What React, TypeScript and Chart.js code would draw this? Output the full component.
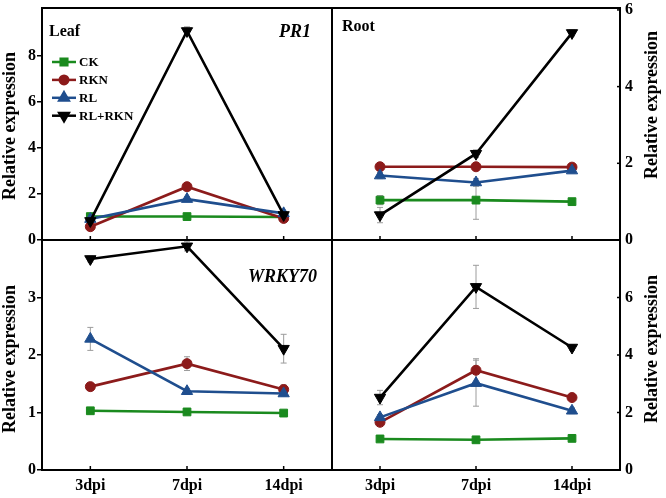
import React, { useEffect, useRef } from 'react';
import { Chart, registerables } from 'chart.js';
import { drawPoint } from 'chart.js/helpers';

Chart.register(...registerables);

// ---------- data ----------
const days = ['3dpi', '7dpi', '14dpi'];
const seriesNames = ['CK', 'RKN', 'RL', 'RL+RKN'];
const seriesColors = ['#1a8a1e', '#8c1b1b', '#1f4e8e', '#000000'];
const seriesPointStyles = ['rect', 'circle', 'triangle', 'triangle'];
const seriesRotations = [0, 0, 0, 180];
const seriesRadius = [5.5, 5, 6.5, 6.5];

// Leaf, PR1
const leafPR1_CK = [1.02, 1.02, 1.0];
const leafPR1_RKN = [0.58, 2.32, 0.94];
const leafPR1_RL = [0.91, 1.78, 1.16];
const leafPR1_RLRKN = [0.83, 9.1, 1.09];
const leafPR1_CK_err = [0.05, 0.05, 0.04];
const leafPR1_RKN_err = [0.08, 0.1, 0.05];
const leafPR1_RL_err = [0.05, 0.1, 0.08];
const leafPR1_RLRKN_err = [0.1, 0.18, 0.08];

// Root, PR1
const rootPR1_CK = [1.04, 1.04, 1.0];
const rootPR1_RKN = [1.91, 1.91, 1.9];
const rootPR1_RL = [1.68, 1.5, 1.81];
const rootPR1_RLRKN = [0.65, 2.25, 5.4];
const rootPR1_CK_err = [0.12, 0.5, 0.05];
const rootPR1_RKN_err = [0.1, 0.08, 0.08];
const rootPR1_RL_err = [0.08, 0.1, 0.06];
const rootPR1_RLRKN_err = [0.2, 0.1, 0.08];

// Leaf, WRKY70
const leafWRKY_CK = [1.03, 1.01, 0.99];
const leafWRKY_RKN = [1.45, 1.85, 1.4];
const leafWRKY_RL = [2.28, 1.37, 1.33];
const leafWRKY_RLRKN = [3.67, 3.89, 2.11];
const leafWRKY_CK_err = [0.04, 0.05, 0.03];
const leafWRKY_RKN_err = [0.05, 0.12, 0.08];
const leafWRKY_RL_err = [0.2, 0.05, 0.05];
const leafWRKY_RLRKN_err = [0.05, 0.08, 0.25];

// Root, WRKY70
const rootWRKY_CK = [1.08, 1.05, 1.1];
const rootWRKY_RKN = [1.66, 3.47, 2.52];
const rootWRKY_RL = [1.83, 3.02, 2.06];
const rootWRKY_RLRKN = [2.52, 6.37, 4.26];
const rootWRKY_CK_err = [0.05, 0.05, 0.05];
const rootWRKY_RKN_err = [0.1, 0.4, 0.1];
const rootWRKY_RL_err = [0.1, 0.8, 0.1];
const rootWRKY_RLRKN_err = [0.25, 0.75, 0.1];

// tick values
const leafPR1_ticks = [0, 2, 4, 6, 8];
const rootPR1_ticks = [0, 2, 4, 6];
const leafWRKY_ticks = [0, 1, 2, 3];
const rootWRKY_ticks = [0, 2, 4, 6];

const yTitle = 'Relative expression';
const FONT = "'Liberation Serif', 'Times New Roman', serif";

const W = 666;
const H = 498;

type PanelCfg = {
  values: number[][];
  errors: number[][];
  ticks: number[];
  yMax: number;
  side: 'left' | 'right';
  row: 'top' | 'bottom';
  tissue?: string;
  tissuePos?: [number, number];
  gene?: string;
  genePos?: [number, number];
  legend?: boolean;
  titleY: number;
};

const panels: PanelCfg[] = [
  {
    values: [leafPR1_CK, leafPR1_RKN, leafPR1_RL, leafPR1_RLRKN],
    errors: [leafPR1_CK_err, leafPR1_RKN_err, leafPR1_RL_err, leafPR1_RLRKN_err],
    ticks: leafPR1_ticks, yMax: 10.1, side: 'left', row: 'top',
    tissue: 'Leaf', tissuePos: [49, 32], gene: 'PR1', genePos: [311, 32], legend: true, titleY: 126,
  },
  {
    values: [rootPR1_CK, rootPR1_RKN, rootPR1_RL, rootPR1_RLRKN],
    errors: [rootPR1_CK_err, rootPR1_RKN_err, rootPR1_RL_err, rootPR1_RLRKN_err],
    ticks: rootPR1_ticks, yMax: 6.05, side: 'right', row: 'top',
    tissue: 'Root', tissuePos: [342, 27], titleY: 105,
  },
  {
    values: [leafWRKY_CK, leafWRKY_RKN, leafWRKY_RL, leafWRKY_RLRKN],
    errors: [leafWRKY_CK_err, leafWRKY_RKN_err, leafWRKY_RL_err, leafWRKY_RLRKN_err],
    ticks: leafWRKY_ticks, yMax: 4, side: 'left', row: 'bottom',
    gene: 'WRKY70', genePos: [317, 277], titleY: 359,
  },
  {
    values: [rootWRKY_CK, rootWRKY_RKN, rootWRKY_RL, rootWRKY_RLRKN],
    errors: [rootWRKY_CK_err, rootWRKY_RKN_err, rootWRKY_RL_err, rootWRKY_RLRKN_err],
    ticks: rootWRKY_ticks, yMax: 8, side: 'right', row: 'bottom', titleY: 349,
  },
];

const LEFT_X = 42;
const MID_X = 332;
const RIGHT_X = 620;
const TOP_Y = 8;
const MID_Y = 240;
const BOT_Y = 470;

function Panel({ cfg }: { cfg: PanelCfg }) {
  const ref = useRef<HTMLCanvasElement | null>(null);
  useEffect(() => {
    const canvas = ref.current;
    if (!canvas) return;
    const isLeft = cfg.side === 'left';
    const isTop = cfg.row === 'top';
    const Y_AXIS_W = isLeft ? LEFT_X : 30;
    const X_AXIS_H = isTop ? 0 : 28;

    const padding = {
      left: isLeft ? 0 : MID_X,
      right: isLeft ? W - MID_X : W - RIGHT_X - Y_AXIS_W,
      top: isTop ? TOP_Y : MID_Y,
      bottom: isTop ? H - MID_Y : H - BOT_Y - X_AXIS_H,
    };

    const deco = {
      id: 'deco',
      beforeDatasetsDraw(chart: any) {
        const ctx = chart.ctx;
        const ys = chart.scales.y;
        ctx.save();
        ctx.strokeStyle = '#9c9c9c';
        ctx.lineWidth = 1;
        cfg.values.forEach((vals, i) => {
          const meta = chart.getDatasetMeta(i);
          meta.data.forEach((pt: any, j: number) => {
            const v = vals[j];
            const e = cfg.errors[i][j];
            const y1 = ys.getPixelForValue(v + e);
            const y2 = ys.getPixelForValue(v - e);
            ctx.beginPath();
            ctx.moveTo(pt.x, y1);
            ctx.lineTo(pt.x, y2);
            ctx.moveTo(pt.x - 3, y1);
            ctx.lineTo(pt.x + 3, y1);
            ctx.moveTo(pt.x - 3, y2);
            ctx.lineTo(pt.x + 3, y2);
            ctx.stroke();
          });
        });
        ctx.restore();
      },
      afterDraw(chart: any) {
        const ctx = chart.ctx;
        const a = chart.chartArea;
        const xs = chart.scales.x;
        const ys = chart.scales.y;
        ctx.save();
        // frame
        ctx.strokeStyle = '#000';
        ctx.lineWidth = 2;
        ctx.strokeRect(a.left, a.top, a.right - a.left, a.bottom - a.top);
        // inward x ticks on bottom edge
        ctx.lineWidth = 1.5;
        days.forEach((_, i) => {
          const x = xs.getPixelForValue(i);
          ctx.beginPath();
          ctx.moveTo(x, a.bottom);
          ctx.lineTo(x, a.bottom - 4);
          ctx.stroke();
        });
        // right axis small inward ticks
        if (!isLeft) {
          cfg.ticks.forEach((t) => {
            const y = ys.getPixelForValue(t);
            ctx.beginPath();
            ctx.moveTo(a.right, y);
            ctx.lineTo(a.right - 3, y);
            ctx.stroke();
          });
        }
        // y title
        ctx.fillStyle = '#000';
        ctx.font = `bold 18px ${FONT}`;
        ctx.textAlign = 'center';
        ctx.textBaseline = 'middle';
        ctx.save();
        ctx.translate(isLeft ? 10 : 652, cfg.titleY);
        ctx.rotate(-Math.PI / 2);
        ctx.fillText(yTitle, 0, 0);
        ctx.restore();
        // tissue label
        if (cfg.tissue && cfg.tissuePos) {
          ctx.font = `bold 16px ${FONT}`;
          ctx.textAlign = 'left';
          ctx.fillText(cfg.tissue, cfg.tissuePos[0], cfg.tissuePos[1]);
        }
        if (cfg.gene && cfg.genePos) {
          ctx.font = `italic bold 18px ${FONT}`;
          ctx.textAlign = 'right';
          ctx.fillText(cfg.gene, cfg.genePos[0], cfg.genePos[1]);
        }
        // legend
        if (cfg.legend) {
          seriesNames.forEach((name, i) => {
            const y = 62 + i * 17.9;
            ctx.strokeStyle = seriesColors[i];
            ctx.fillStyle = seriesColors[i];
            ctx.lineWidth = 2.5;
            ctx.beginPath();
            ctx.moveTo(52, y);
            ctx.lineTo(76, y);
            ctx.stroke();
            drawPoint(ctx, {
              pointStyle: seriesPointStyles[i],
              rotation: seriesRotations[i],
              radius: seriesRadius[i] * 0.85,
              borderWidth: 1,
            } as any, 64, y);
            ctx.fillStyle = '#000';
            ctx.font = `bold 13px ${FONT}`;
            ctx.textAlign = 'left';
            ctx.textBaseline = 'middle';
            ctx.fillText(name, 79, y + 0.5);
          });
        }
        ctx.restore();
      },
    };

    const chart = new Chart(canvas, {
      type: 'line',
      data: {
        labels: days,
        datasets: cfg.values.map((vals, i) => ({
          label: seriesNames[i],
          data: vals,
          borderColor: seriesColors[i],
          backgroundColor: seriesColors[i],
          pointBackgroundColor: seriesColors[i],
          pointBorderColor: seriesColors[i],
          pointStyle: seriesPointStyles[i] as any,
          rotation: seriesRotations[i],
          pointRadius: seriesRadius[i],
          pointBorderWidth: 1,
          borderWidth: 2.6,
          tension: 0,
          order: i === 3 ? 0 : 4 - i,
        })),
      },
      options: {
        responsive: false,
        animation: false,
        devicePixelRatio: 1,
        layout: { padding },
        plugins: {
          legend: { display: false },
          tooltip: { enabled: false },
          title: { display: false },
        },
        events: [],
        scales: {
          x: {
            type: 'category',
            offset: true,
            display: !isTop,
            grid: { display: false, drawTicks: false },
            border: { display: false },
            ticks: {
              color: '#000',
              padding: 6,
              maxRotation: 0,
              font: { family: FONT, size: 16, weight: 'bold' },
            },
            afterFit: (s: any) => {
              s.height = X_AXIS_H;
              s.paddingLeft = 0;
              s.paddingRight = 0;
            },
          },
          y: {
            type: 'linear',
            position: cfg.side,
            min: 0,
            max: cfg.yMax,
            grid: isLeft
              ? { display: true, drawOnChartArea: false, drawTicks: true, tickLength: 5, color: '#000', lineWidth: 1.5 }
              : { display: false, drawTicks: false },
            border: { display: false },
            ticks: {
              color: '#000',
              padding: isLeft ? 1 : 5,
              font: { family: FONT, size: 16, weight: 'bold' },
              callback: (v: any) => String(v),
            },
            afterBuildTicks: (s: any) => {
              s.ticks = cfg.ticks.map((v) => ({ value: v }));
            },
            afterFit: (s: any) => {
              s.width = Y_AXIS_W;
              s.paddingTop = 0;
              s.paddingBottom = 0;
            },
          },
        },
      } as any,
      plugins: [deco],
    });
    return () => chart.destroy();
  }, [cfg]);
  return (
    <canvas
      ref={ref}
      width={W}
      height={H}
      style={{ position: 'absolute', left: 0, top: 0, width: W, height: H }}
    />
  );
}

export default function App() {
  return (
    <div style={{ position: 'absolute', left: 0, top: 0, width: W, height: H, background: '#fff' }}>
      {panels.map((p, i) => (
        <Panel key={i} cfg={p} />
      ))}
    </div>
  );
}
